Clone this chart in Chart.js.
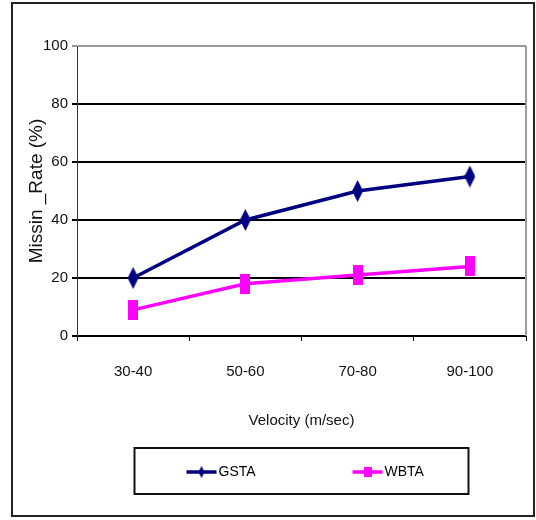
<!DOCTYPE html>
<html>
<head>
<meta charset="utf-8">
<script src="https://cdn.jsdelivr.net/npm/chart.js@4/dist/chart.umd.min.js"></script>
<style>
  html, body { margin: 0; padding: 0; background: #fff; }
  canvas { display: block; }
</style>
</head>
<body>
<canvas id="c" width="536" height="520"></canvas>
<script>
// Velocity bands on the x axis
const categories = ['30-40', '50-60', '70-80', '90-100'];
// Missing rate (%) per method
const gstaValues = [20, 40, 50, 55];
const wbtaValues = [9, 18, 21, 24];
const seriesNames = ['GSTA', 'WBTA'];
const yTicks = [0, 20, 40, 60, 80, 100];

const NAVY = '#000080';
const MAGENTA = '#FF00FF';
const narrow = "'Liberation Sans Narrow', 'Liberation Sans', Arial, sans-serif";
const regular = "'Liberation Sans', Arial, sans-serif";

// tall marker sprites (diamond / block)
function marker(kind, color, w, h) {
  const cv = document.createElement('canvas');
  cv.width = w; cv.height = h;
  const g = cv.getContext('2d');
  g.fillStyle = color;
  if (kind === 'diamond') {
    g.beginPath();
    g.moveTo(w / 2, 0); g.lineTo(w, h / 2); g.lineTo(w / 2, h); g.lineTo(0, h / 2);
    g.closePath(); g.fill();
  } else {
    g.fillRect(0, 0, w, h);
  }
  return cv;
}
const diamond = marker('diamond', NAVY, 11, 22);
const block = marker('rect', MAGENTA, 10, 20);
const diamondSmall = marker('diamond', NAVY, 6, 12);
const blockSmall = marker('rect', MAGENTA, 8, 10);

// outer frame, plot-area edge and boxed legend
const decor = {
  id: 'decor',
  beforeDatasetsDraw(chart) {
    const { ctx, chartArea: a } = chart;
    ctx.save();
    ctx.strokeStyle = '#9a9a9a';
    ctx.lineWidth = 2;
    ctx.beginPath();
    ctx.moveTo(a.right, a.top);
    ctx.lineTo(a.right, a.bottom);
    ctx.stroke();
    ctx.restore();
  },
  afterDraw(chart) {
    const { ctx, chartArea: a } = chart;
    ctx.save();
    // outer frame
    ctx.strokeStyle = '#222';
    ctx.lineWidth = 2;
    ctx.strokeRect(12, 3, 522, 513);
    // legend box
    const cx = (a.left + a.right) / 2;
    const bw = 334, top = 448, bh = 46;
    const bx = cx - bw / 2;
    ctx.strokeStyle = '#111';
    ctx.lineWidth = 2;
    ctx.strokeRect(bx, top, bw, bh);
    const midY = top + bh / 2 + 1;
    const sprites = [diamondSmall, blockSmall];
    const starts = [bx + 52, bx + 218];
    chart.data.datasets.forEach((ds, i) => {
      const x0 = starts[i];
      ctx.strokeStyle = ds.borderColor;
      ctx.lineWidth = 3.5;
      ctx.beginPath();
      ctx.moveTo(x0, midY);
      ctx.lineTo(x0 + 30, midY);
      ctx.stroke();
      const s = sprites[i];
      ctx.drawImage(s, x0 + 15 - s.width / 2, midY - s.height / 2);
      ctx.fillStyle = '#000';
      ctx.font = '14px ' + narrow;
      ctx.textBaseline = 'middle';
      ctx.textAlign = 'left';
      ctx.fillText(ds.label, x0 + 32, midY);
    });
    ctx.restore();
  }
};

new Chart(document.getElementById('c'), {
  type: 'line',
  data: {
    labels: categories,
    datasets: [
      {
        label: seriesNames[0],
        data: gstaValues,
        borderColor: NAVY,
        backgroundColor: NAVY,
        borderWidth: 3.5,
        pointStyle: diamond,
        tension: 0
      },
      {
        label: seriesNames[1],
        data: wbtaValues,
        borderColor: MAGENTA,
        backgroundColor: MAGENTA,
        borderWidth: 3.5,
        pointStyle: block,
        tension: 0
      }
    ]
  },
  options: {
    responsive: false,
    animation: false,
    events: [],
    layout: { padding: { left: 0, right: 10, top: 46, bottom: 84 } },
    plugins: {
      legend: { display: false },
      tooltip: { enabled: false }
    },
    scales: {
      x: {
        type: 'category',
        offset: true,
        afterFit(scale) { scale.height = 100; },
        grid: {
          display: true,
          offset: true,
          drawOnChartArea: false,
          drawTicks: true,
          tickLength: 5,
          color: '#000',
          lineWidth: 1
        },
        border: { display: true, color: '#000', width: 2 },
        ticks: {
          color: '#111',
          padding: 22,
          maxRotation: 0,
          font: { family: narrow, size: 15 }
        },
        title: {
          display: true,
          text: 'Velocity (m/sec)',
          color: '#111',
          padding: { top: 0, bottom: 6 },
          font: { family: narrow, size: 15 }
        }
      },
      y: {
        min: 0,
        max: 100,
        afterFit(scale) { scale.width = 77; },
        afterBuildTicks(scale) { scale.ticks = yTicks.map(v => ({ value: v })); },
        grid: {
          drawTicks: true,
          tickLength: 5,
          color: (c) => (c.tick && c.tick.value === 100 ? '#9a9a9a' : '#000'),
          lineWidth: 2
        },
        border: { display: true, color: '#333', width: 1 },
        ticks: {
          color: '#111',
          padding: 4,
          font: { family: narrow, size: 15 }
        },
        title: {
          display: true,
          text: 'Missin _Rate (%)',
          color: '#111',
          padding: { top: 25, bottom: 0 },
          font: { family: regular, size: 19 }
        }
      }
    }
  },
  plugins: [decor]
});
</script>
</body>
</html>
